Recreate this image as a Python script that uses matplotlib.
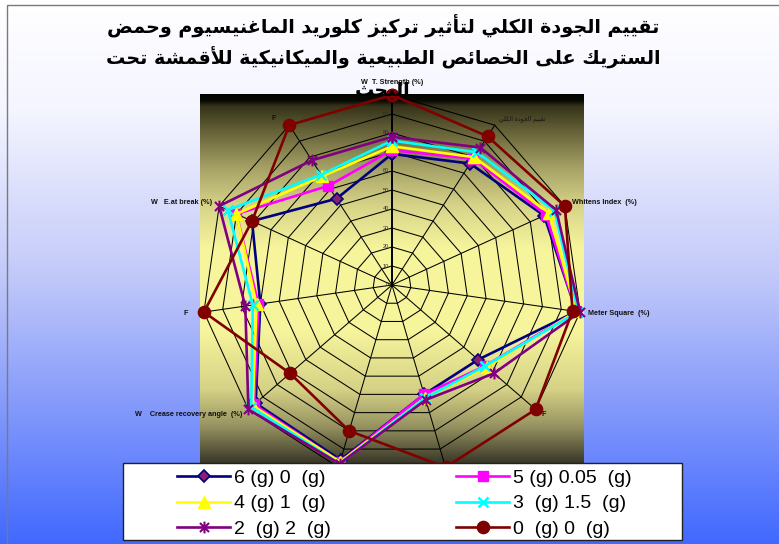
import numpy as np
import matplotlib
matplotlib.use("Agg")
import matplotlib.pyplot as plt
from matplotlib.path import Path
from matplotlib.patches import Rectangle
from matplotlib.colors import LinearSegmentedColormap
from matplotlib.transforms import offset_copy

W_PX, H_PX = 779, 544

# ---- data ----
TITLE_LINES = [
    "تقييم الجودة الكلي لتأثير تركيز كلوريد الماغنيسيوم وحمض",
    "الستريك على الخصائص الطبيعية والميكانيكية للأقمشة تحت",
    "البحث",
]
# the two spokes at the bottom are covered by the legend: their names can't be read
SPOKES = [
    "W  T. Strength (%)",
    "تقييم الجودة الكلي",
    "Whitens Index  (%)",
    "Meter Square  (%)",
    "F    ",
    "",
    "",
    "W    Crease recovery angle  (%)",
    "F    ",
    "W   E.at break (%)",
    "F    ",
]
R_TICKS = [0, 10, 20, 30, 40, 50, 60, 70, 80, 90, 100]

SERIES = ["6 (g) 0  (g)", "5 (g) 0.05  (g)", "4 (g) 1  (g)",
          "3  (g) 1.5  (g)", "2  (g) 2  (g)", "0  (g) 0  (g)"]
V_6_0   = [69, 76, 88, 98, 60, 60, 96, 95, 70, 81, 54]
V_5_005 = [71, 79, 89, 98, 65, 60, 97, 96, 71, 90, 62]
V_4_1   = [73, 80, 91, 98, 66, 62, 97, 97, 72, 90, 68]
V_3_15  = [76, 83, 94, 99, 65, 62, 98, 98, 74, 95, 69]
V_2_2   = [78, 86, 95, 100, 71, 63, 98, 100, 78, 100, 78]
V_0_0   = [100, 93, 100, 96, 100, 100, 80, 71, 100, 81, 100]
VALUES = [V_6_0, V_5_005, V_4_1, V_3_15, V_2_2, V_0_0]

# ---- minimal Arabic shaping (presentation forms B) ----
AR_FORMS = {
    'ء': (0xFE80, 1), 'آ': (0xFE81, 2), 'أ': (0xFE83, 2), 'ؤ': (0xFE85, 2),
    'إ': (0xFE87, 2), 'ئ': (0xFE89, 4), 'ا': (0xFE8D, 2), 'ب': (0xFE8F, 4),
    'ة': (0xFE93, 2), 'ت': (0xFE95, 4), 'ث': (0xFE99, 4), 'ج': (0xFE9D, 4),
    'ح': (0xFEA1, 4), 'خ': (0xFEA5, 4), 'د': (0xFEA9, 2), 'ذ': (0xFEAB, 2),
    'ر': (0xFEAD, 2), 'ز': (0xFEAF, 2), 'س': (0xFEB1, 4), 'ش': (0xFEB5, 4),
    'ص': (0xFEB9, 4), 'ض': (0xFEBD, 4), 'ط': (0xFEC1, 4), 'ظ': (0xFEC5, 4),
    'ع': (0xFEC9, 4), 'غ': (0xFECD, 4), 'ف': (0xFED1, 4), 'ق': (0xFED5, 4),
    'ك': (0xFED9, 4), 'ل': (0xFEDD, 4), 'م': (0xFEE1, 4), 'ن': (0xFEE5, 4),
    'ه': (0xFEE9, 4), 'و': (0xFEED, 2), 'ى': (0xFEEF, 2), 'ي': (0xFEF1, 4),
}
LAM_ALEF = {'آ': 0xFEF5, 'أ': 0xFEF7, 'إ': 0xFEF9, 'ا': 0xFEFB}


def shape_ar(text):
    if not any(c in AR_FORMS for c in text):
        return text
    out, i, prev = [], 0, False
    while i < len(text):
        c = text[i]
        nxt = text[i + 1] if i + 1 < len(text) else ''
        if c not in AR_FORMS:
            out.append(c); prev = False; i += 1
            continue
        if c == 'ل' and nxt in LAM_ALEF:
            out.append(chr(LAM_ALEF[nxt] + (1 if prev else 0)))
            prev = False; i += 2
            continue
        iso, nf = AR_FORMS[c]
        fwd = nf == 4 and nxt in AR_FORMS
        if prev and fwd:
            form = 3
        elif prev and nf > 1:
            form = 1
        elif fwd:
            form = 2
        else:
            form = 0
        out.append(chr(iso + form))
        prev = fwd
        i += 1
    return ''.join(reversed(out))


def fx(px):
    return px / W_PX


def fy(py):
    return 1 - py / H_PX


plt.rcParams['font.family'] = ['Liberation Sans', 'DejaVu Sans']

fig = plt.figure(figsize=(W_PX / 100, H_PX / 100), dpi=100)

# ---- backgrounds (figure gradient + plot-area gradient) ----
bg = fig.add_axes([0, 0, 1, 1], zorder=-10)
bg.set_xlim(0, W_PX); bg.set_ylim(H_PX, 0); bg.axis('off')
sky = LinearSegmentedColormap.from_list("sky", [
    (0.0, "#ffffff"), (0.2, "#f4f5ff"), (0.5, "#c3caf9"),
    (0.75, "#8399fb"), (1.0, "#4169ff")])
bg.imshow(np.linspace(0, 1, 256)[:, None], cmap=sky, aspect='auto',
          extent=[0, W_PX, H_PX, 0], zorder=0)
olive = LinearSegmentedColormap.from_list("olive", [
    (0.0, "#050500"), (0.017, "#0a0a04"), (0.03, "#343219"),
    (0.1, "#666238"), (0.2, "#a6a266"), (0.3, "#d6d388"),
    (0.42, "#f7f59c"), (0.64, "#f7f59c"), (0.8, "#d6d286"),
    (0.9, "#989462"), (1.0, "#3a3828")])
bg.imshow(np.linspace(0, 1, 256)[:, None], cmap=olive, aspect='auto',
          extent=[200, 584, 463, 94], zorder=1)
bg.add_patch(Rectangle((7, 5), 900, 700, fill=False, ec="#7a7a7a", lw=1.0, zorder=2))

# ---- radar ----
CX, CY, RPX = 392, 285, 190
ax = fig.add_axes([fx(CX - RPX), 1 - (CY + RPX) / H_PX, 2 * RPX / W_PX, 2 * RPX / H_PX],
                  projection='polar')
ax.set_theta_zero_location('N')
ax.set_theta_direction(-1)
ax.set_ylim(0, 100)
ax.patch.set_visible(False)
ax.spines['polar'].set_visible(False)
ax.grid(False)
ax.set_xticks([]); ax.set_yticks([])

n = len(SPOKES)
ang = np.arange(n) * 2 * np.pi / n
ang_c = np.append(ang, ang[0])

for lvl in R_TICKS[1:]:
    ax.plot(ang_c, [lvl] * (n + 1), color='black', lw=0.75, zorder=1, clip_on=False)
for k, a in enumerate(ang):
    ax.plot([a, a], [0, 100], color='black', lw=1.4 if k == 0 else 0.75,
            zorder=1, clip_on=False)

tick_tr = offset_copy(ax.transData, fig=fig, x=-3, y=0, units='dots')
for lvl in R_TICKS[:-1]:
    ax.text(0, lvl, str(lvl), transform=tick_tr, ha='right', va='center',
            fontsize=4, color='#2a2a2a')

for k, (a, lab) in enumerate(zip(ang, SPOKES)):
    if not lab:
        continue
    s, c = np.sin(a), np.cos(a)
    gap = 13 if k == 0 else 8
    tr = offset_copy(ax.transData, fig=fig, x=gap * s, y=gap * c, units='dots')
    ha = 'center' if abs(s) < 0.1 else ('left' if s > 0 else 'right')
    arabic = lab != shape_ar(lab)
    ax.text(a, 100, shape_ar(lab), transform=tr, ha=ha, va='center',
            fontsize=4.3 if arabic else 5.2,
            fontweight='normal' if arabic else 'bold',
            family=['DejaVu Sans'] if arabic else ['Liberation Sans'],
            color='#111111', zorder=3)

star = Path([(-1, -1), (1, 1), (-1, 1), (1, -1), (0, -1.3), (0, 1.3)],
            [Path.MOVETO, Path.LINETO, Path.MOVETO, Path.LINETO, Path.MOVETO, Path.LINETO])
STYLES = [
    dict(color='#000080', marker='D', ms=6.5, mfc='#8c1e6e', mec='#000080', mew=1.2),
    dict(color='#ff00ff', marker='s', ms=7.5, mfc='#ff00ff', mec='#ff00ff'),
    dict(color='#ffff00', marker='^', ms=8.5, mfc='#ffff00', mec='#ffff00'),
    dict(color='#00ffff', marker='x', ms=7.5, mec='#00ffff', mew=1.8),
    dict(color='#800080', marker=star, ms=8.5, mfc='none', mec='#800080', mew=1.5),
    dict(color='#800000', marker='o', ms=8.8, mfc='#800000', mec='#800000'),
]
handles = []
for lab, vals, st in zip(SERIES, VALUES, STYLES):
    h, = ax.plot(ang_c, vals + vals[:1], lw=1.9, label=lab, clip_on=False,
                 zorder=4, **st)
    handles.append(h)

# ---- title ----
for i, line in enumerate(TITLE_LINES):
    fig.text(fx(383), fy(26 + 32 * i), shape_ar(line), ha='center', va='center',
             fontsize=13.8, fontweight='bold', family=['DejaVu Sans'], color='black',
             zorder=1)

# ---- legend (drawn over the lower part of the radar) ----
fig.add_artist(Rectangle((fx(123), fy(540)), fx(682) - fx(123), fy(463) - fy(540),
                         transform=fig.transFigure, fc='white', ec='#222222',
                         lw=1.0, zorder=4))
order = [0, 2, 4, 1, 3, 5]
fig.legend([handles[i] for i in order], [SERIES[i] for i in order],
           loc='upper left', bbox_to_anchor=(fx(177), fy(469)), ncol=2,
           frameon=False, borderpad=0, borderaxespad=0, handlelength=2.73,
           handletextpad=0.2, columnspacing=6.45, labelspacing=0.42,
           prop=dict(family='Liberation Sans', size=14)).set_zorder(5)

fig.savefig("out.png", dpi=100)
